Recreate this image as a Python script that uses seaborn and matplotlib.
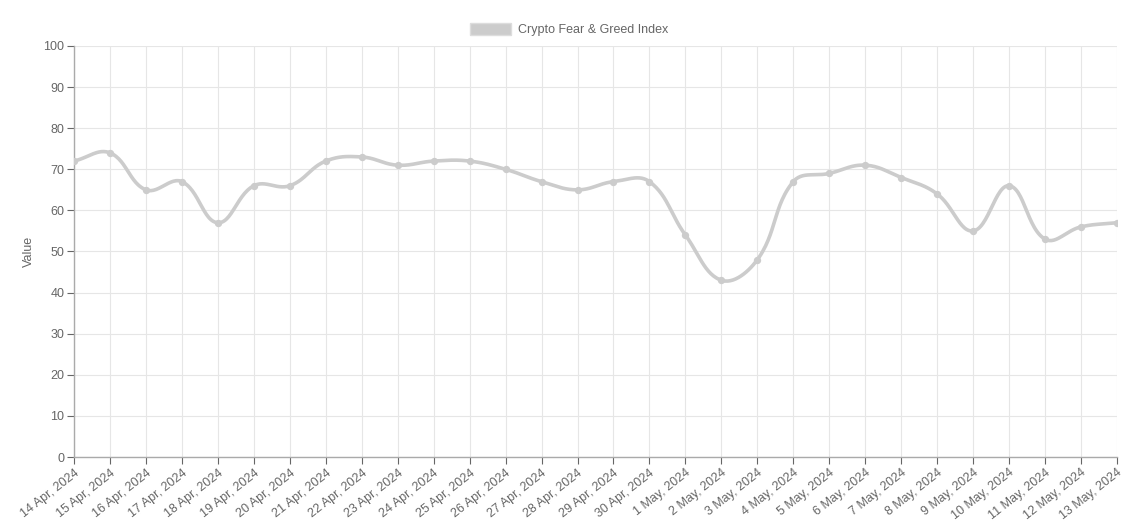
import numpy as np
import pandas as pd
import matplotlib
matplotlib.use("Agg")
import matplotlib.pyplot as plt
import seaborn as sns

dates = ["14 Apr, 2024", "15 Apr, 2024", "16 Apr, 2024", "17 Apr, 2024", "18 Apr, 2024",
         "19 Apr, 2024", "20 Apr, 2024", "21 Apr, 2024", "22 Apr, 2024", "23 Apr, 2024",
         "24 Apr, 2024", "25 Apr, 2024", "26 Apr, 2024", "27 Apr, 2024", "28 Apr, 2024",
         "29 Apr, 2024", "30 Apr, 2024", "1 May, 2024", "2 May, 2024", "3 May, 2024",
         "4 May, 2024", "5 May, 2024", "6 May, 2024", "7 May, 2024", "8 May, 2024",
         "9 May, 2024", "10 May, 2024", "11 May, 2024", "12 May, 2024", "13 May, 2024"]
values = [72, 74, 65, 67, 57, 66, 66, 72, 73, 71, 72, 72, 70, 67, 65, 67, 67,
          54, 43, 48, 67, 69, 71, 68, 64, 55, 66, 53, 56, 57]
series_name = "Crypto Fear & Greed Index"

sns.set_theme(style="white")
plt.rcParams['font.family'] = ['Liberation Sans', 'DejaVu Sans']

W, H = 1138, 527
fig = plt.figure(figsize=(W / 100, H / 100), dpi=100)
ax = fig.add_axes([74 / W, 1 - 457 / H, (1117 - 74) / W, (457 - 46) / H])

x = np.arange(len(values), dtype=float)
y = np.array(values, dtype=float)

# Chart.js-style bezier smoothing (tension 0.4), computed in pixel space
px_per_x = (1117 - 74) / (len(values) - 1)
px_per_y = (457 - 46) / 100.0
Px = x * px_per_x
Py = y * px_per_y
t = 0.4
n = len(values)
cp_prev = np.zeros((n, 2))
cp_next = np.zeros((n, 2))
for i in range(n):
    p0 = (Px[max(i - 1, 0)], Py[max(i - 1, 0)])
    p1 = (Px[i], Py[i])
    p2 = (Px[min(i + 1, n - 1)], Py[min(i + 1, n - 1)])
    d01 = np.hypot(p1[0] - p0[0], p1[1] - p0[1])
    d12 = np.hypot(p2[0] - p1[0], p2[1] - p1[1])
    s01 = d01 / (d01 + d12) if d01 + d12 else 0
    s12 = d12 / (d01 + d12) if d01 + d12 else 0
    fa, fb = t * s01, t * s12
    cp_prev[i] = (p1[0] - fa * (p2[0] - p0[0]), p1[1] - fa * (p2[1] - p0[1]))
    cp_next[i] = (p1[0] + fb * (p2[0] - p0[0]), p1[1] + fb * (p2[1] - p0[1]))

sx, sy = [], []
tt = np.linspace(0, 1, 30)
for i in range(n - 1):
    P0 = np.array([Px[i], Py[i]])
    P1 = cp_next[i]
    P2 = cp_prev[i + 1]
    P3 = np.array([Px[i + 1], Py[i + 1]])
    b = ((1 - tt) ** 3)[:, None] * P0 + (3 * (1 - tt) ** 2 * tt)[:, None] * P1 + \
        (3 * (1 - tt) * tt ** 2)[:, None] * P2 + (tt ** 3)[:, None] * P3
    sx.extend(b[:, 0] / px_per_x)
    sy.extend(b[:, 1] / px_per_y)

curve = pd.DataFrame({"x": sx, "y": sy})
pts = pd.DataFrame({"x": x, "y": y})

col = "#cccccc"
sns.lineplot(data=curve, x="x", y="y", ax=ax, color=col, linewidth=2.6, sort=False,
             estimator=None, label=None, legend=False)
sns.scatterplot(data=pts, x="x", y="y", ax=ax, color=col, s=28, edgecolor=col,
                linewidth=0, zorder=3, legend=False)

ax.set_xlim(0, n - 1)
ax.set_ylim(0, 100)
ax.set_yticks(np.arange(0, 101, 10))
ax.set_xticks(x)
ax.set_xticklabels(dates, rotation=38, ha="right", rotation_mode="anchor")
ax.grid(True, color="#e6e6e6", linewidth=0.8)
ax.set_axisbelow(True)
for s in ["top", "right"]:
    ax.spines[s].set_visible(False)
for s in ["left", "bottom"]:
    ax.spines[s].set_color("#aaaaaa")
    ax.spines[s].set_linewidth(1)
ax.tick_params(axis="both", colors="#666666", labelsize=9, length=5, width=0.8,
               direction="out", bottom=True, left=True, pad=2)
for lab in ax.get_xticklabels() + ax.get_yticklabels():
    lab.set_color("#666666")
ax.set_xlabel("")
ax.set_ylabel("Value", color="#666666", fontsize=9, labelpad=6)

from matplotlib.patches import Patch
fig.legend(handles=[Patch(facecolor=col, edgecolor="#dddddd", label=series_name)],
           loc="center", bbox_to_anchor=(0.5, 1 - 29.5 / H), frameon=False,
           fontsize=9, handlelength=3.3, handleheight=1.1, labelcolor="#666666",
           handletextpad=0.5)

fig.savefig("out.png", dpi=100)
